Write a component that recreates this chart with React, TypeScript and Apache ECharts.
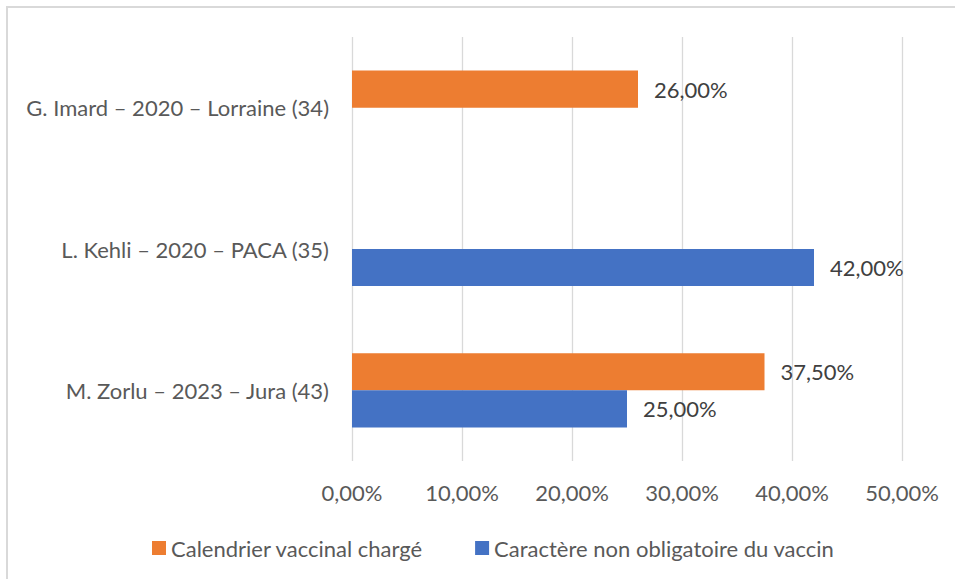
import React, { useEffect, useRef } from "react";
import * as echarts from "echarts";

const categories = [
  "M. Zorlu – 2023 – Jura (43)",
  "L. Kehli – 2020 – PACA (35)",
  "G. Imard – 2020 – Lorraine (34)",
];
const seriesNames = ["Calendrier vaccinal chargé", "Caractère non obligatoire du vaccin"];
const calendrierValues: (number | null)[] = [37.5, null, 26];
const caractereValues: (number | null)[] = [25, 42, null];
const xTicks = { min: 0, max: 50, interval: 10 };

const FONT = "Lato";
const FS = 22;
const fmt = (v: number) => v.toFixed(2).replace(".", ",") + "%";

export default function App() {
  const ref = useRef<HTMLDivElement>(null);
  useEffect(() => {
    if (!ref.current) return;
    const chart = echarts.init(ref.current, undefined, { renderer: "svg" });
    const label = {
      show: true,
      position: "right" as const,
      distance: 16,
      color: "#404040",
      fontFamily: FONT,
      fontSize: FS,
      formatter: (p: any) => fmt(p.value),
    };
    chart.setOption({
      animation: false,
      backgroundColor: "#ffffff",
      textStyle: { fontFamily: FONT },
      graphic: [
        {
          type: "rect",
          shape: { x: 7, y: 7, width: 980, height: 620 },
          style: { fill: "none", stroke: "#D9D9D9", lineWidth: 2 },
          silent: true,
        },
      ],
      grid: { left: 352, right: 53, top: 37, bottom: 118, containLabel: false },
      legend: {
        left: 147,
        top: 532,
        icon: "rect",
        itemWidth: 14,
        itemHeight: 14,
        itemGap: 52,
        textStyle: { color: "#595959", fontFamily: FONT, fontSize: FS },
        data: seriesNames,
      },
      xAxis: {
        type: "value",
        min: xTicks.min,
        max: xTicks.max,
        interval: xTicks.interval,
        axisLine: { show: false },
        axisTick: { show: false },
        splitLine: { show: true, lineStyle: { color: "#D9D9D9", width: 1.3 } },
        axisLabel: {
          color: "#595959",
          fontFamily: FONT,
          fontSize: FS,
          margin: 20,
          formatter: (v: number) => fmt(v),
        },
      },
      yAxis: {
        type: "category",
        data: categories,
        axisLine: { show: false },
        axisTick: { show: false },
        axisLabel: { color: "#595959", fontFamily: FONT, fontSize: FS, margin: 23 },
      },
      series: [
        {
          name: seriesNames[0],
          type: "bar",
          data: calendrierValues,
          itemStyle: { color: "#ED7D31" },
          barGap: "0%",
          barCategoryGap: "47.5%",
          label,
        },
        {
          name: seriesNames[1],
          type: "bar",
          data: caractereValues,
          itemStyle: { color: "#4472C4" },
          barGap: "0%",
          barCategoryGap: "47.5%",
          label,
        },
      ],
    });
    return () => chart.dispose();
  }, []);
  return (
    <div
      ref={ref}
      style={{ position: "fixed", left: 0, top: 0, width: 955, height: 579 }}
    />
  );
}
